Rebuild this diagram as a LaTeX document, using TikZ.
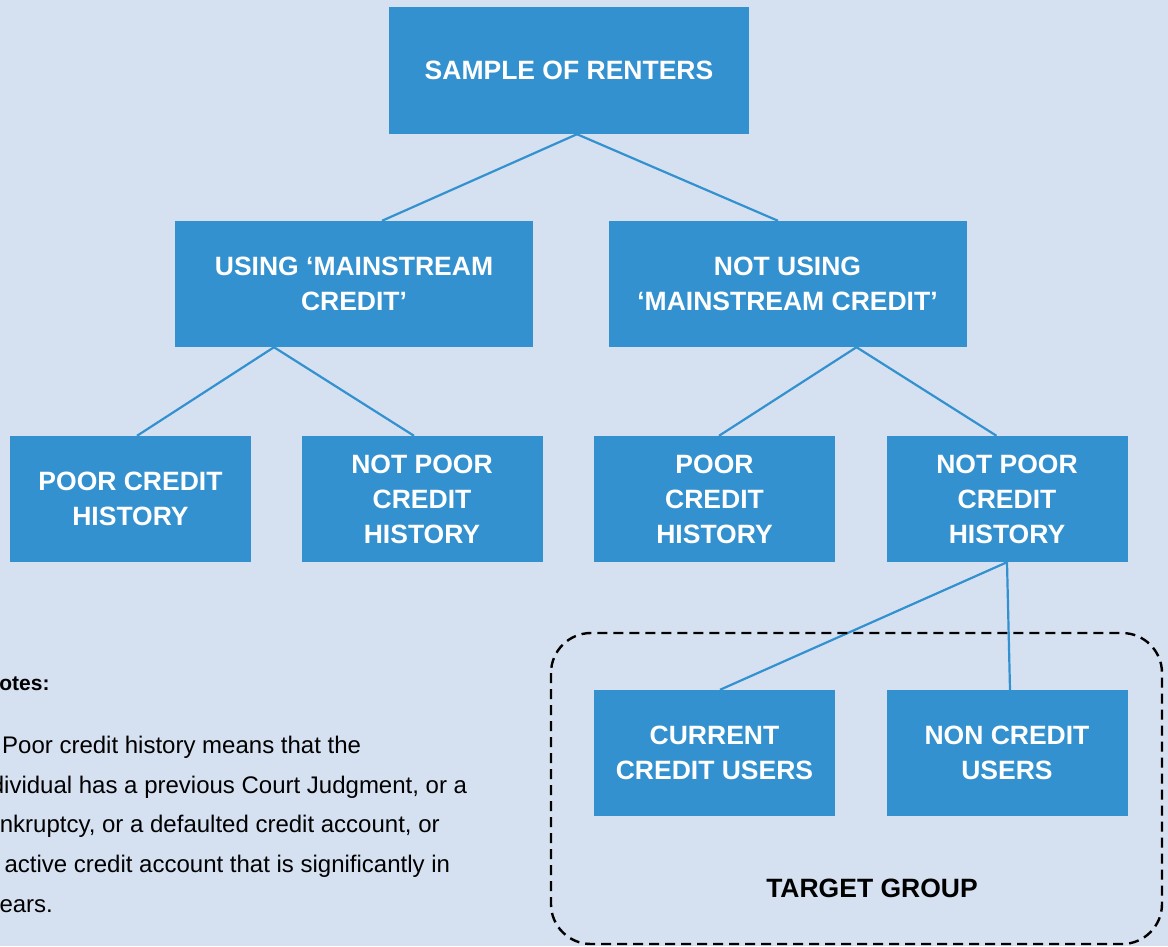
\documentclass[tikz,border=0pt]{standalone}
\usepackage{fontspec}
\setmainfont{Liberation Sans}
\usetikzlibrary{positioning,calc}
\definecolor{paneblue}{RGB}{213,225,241}
\definecolor{boxblue}{RGB}{51,145,208}
\tikzset{
  group/.style={
    rectangle,
    fill=boxblue,
    text=white,
    font=\bfseries\fontsize{26.5}{35}\selectfont,
    align=center,
    inner sep=0pt,
    minimum width=241pt,
    minimum height=126pt},
  wide group/.style={group, minimum width=358pt},
  branch/.style={draw=boxblue, line width=2.2pt},
}

\begin{document}
\begin{tikzpicture}[
    x=1pt, y=-1pt,
    target frame/.style={line width=2.4pt, dash pattern=on 10pt off 6pt, rounded corners=40pt},
    note text/.style={anchor=base west, inner sep=0pt, font=\fontsize{24}{40}\selectfont}
    ]

    \useasboundingbox (0,0) rectangle (1168,946);
    \clip (0,0) rectangle (1168,946);
    \fill[paneblue] (0,0) rectangle (1168,946);

    % the tree of renters
    \node[wide group, minimum width=360pt, minimum height=127pt] (renters) at (569,70.5) {SAMPLE OF RENTERS};

    \node[wide group] (using) at (354,284) {USING ‘MAINSTREAM\\CREDIT’};
    \node[wide group] (notusing) at (787.5,284) {NOT USING\\‘MAINSTREAM CREDIT’};

    \node[group] (poorA) at (130.5,499) {POOR CREDIT\\HISTORY};
    \node[group] (notpoorA) at (422,499) {NOT POOR\\CREDIT\\HISTORY};
    \node[group] (poorB) at (714.5,499) {POOR\\CREDIT\\HISTORY};
    \node[group] (notpoorB) at (1007,499) {NOT POOR\\CREDIT\\HISTORY};

    \node[group] (current) at (714.5,753) {CURRENT\\CREDIT USERS};
    \node[group] (noncredit) at (1007,753) {NON CREDIT\\USERS};

    \draw[branch] ([xshift=8pt]renters.south) -- ([xshift=28pt]using.north);
    \draw[branch] ([xshift=8pt]renters.south) -- ([xshift=-9.5pt]notusing.north);

    \draw[branch] ([xshift=-80pt]using.south) -- ([xshift=6.5pt]poorA.north);
    \draw[branch] ([xshift=-80pt]using.south) -- ([xshift=-8pt]notpoorA.north);

    \draw[branch] ([xshift=69pt]notusing.south) -- ([xshift=4.5pt]poorB.north);
    \draw[branch] ([xshift=69pt]notusing.south) -- ([xshift=-10.5pt]notpoorB.north);

    \draw[branch] (notpoorB.south) -- ([xshift=5.5pt]current.north);
    \draw[branch] (notpoorB.south) -- ([xshift=3pt]noncredit.north);

    % target group
    \draw[target frame] (551,633) rectangle (1162,944);
    \node[font=\bfseries\fontsize{26.5}{35}\selectfont] (target) at (872,888) {TARGET GROUP};

    % notes
    \node[note text, font=\bfseries\fontsize{21}{40}\selectfont] (notehead) at (-16,690) {Notes:};
    \node[note text] (note1) at (2,753) {Poor credit history means that the};
    \node[note text] (note2) at (-28,793) {individual has a previous Court Judgment, or a};
    \node[note text] (note3) at (-27,832) {bankruptcy, or a defaulted credit account, or};
    \node[note text] (note4) at (-29,872) {an active credit account that is significantly in};
    \node[note text] (note5) at (-30,912) {arrears.};

\end{tikzpicture}
\end{document}
